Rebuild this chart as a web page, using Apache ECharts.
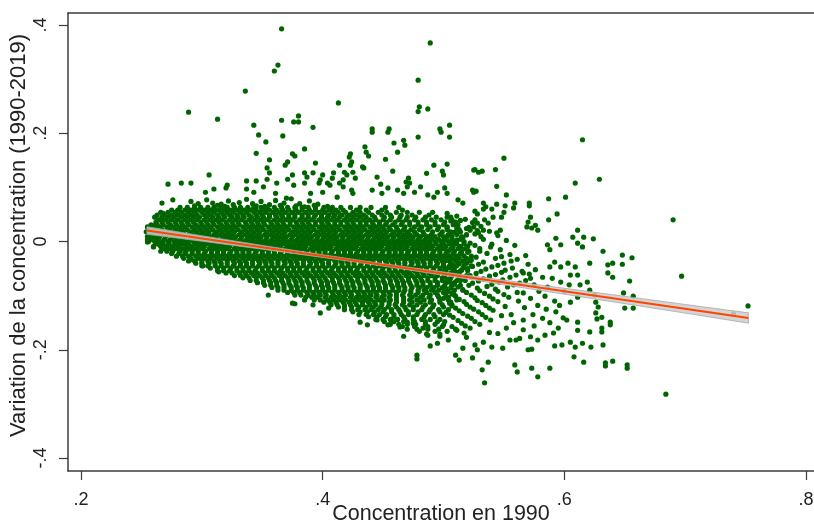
<!DOCTYPE html>
<html><head><meta charset="utf-8">
<script src="https://cdn.jsdelivr.net/npm/echarts@6/dist/echarts.min.js"></script>
<style>html,body{margin:0;padding:0;background:#fff}#c{width:814px;height:525px}</style>
</head><body><div id="c"></div>
<script>
// Tick values and labels
const xTickValues = [0.2, 0.4, 0.6, 0.8];
const xTickLabels = ['.2', '.4', '.6', '.8'];
const yTickValues = [-0.4, -0.2, 0, 0.2, 0.4];
const yTickLabels = ['-.4', '-.2', '0', '.2', '.4'];

// Dense core: each row = [y, x1, x2, ...] in thousandths
const coreRows = [
[63,282,288,294,299,305,310,316,321,327,332,338,343,349,354,360,366,371,377,383,388,394,401,408,415,423,431,440,452,463],
[58,275,280,286,291,297,302,308,313,318,324,329,335,340,345,351,356,362,367,372,378,383,389,394,400,405,411,417,428,436,449,466],
[54,266,272,278,283,289,294,300,305,310,316,321,326,332,337,343,348,353,359,364,369,375,380,386,391,397,402,408,413,419,425,431,438,446,453,461,470,480,491],
[49,263,269,275,280,286,291,296,302,307,313,318,323,329,334,339,345,350,356,361,366,372,377,383,388,394,399,405,410,416,422,428,434,441,449,456,465,474,488],
[45,261,267,272,277,283,288,293,298,304,309,314,319,325,330,335,341,346,351,356,362,367,372,377,383,388,393,399,404,409,414,420,425,431,436,443,451,457,464,470,477,485,494,503],
[40,264,270,275,280,286,291,296,302,307,312,317,323,328,333,339,344,349,354,360,365,370,375,381,386,391,397,402,407,412,418,423,428,434,439,444,450,456,463,469,476,483,490,498,507],
[36,262,267,272,278,283,288,293,299,304,309,314,320,325,330,336,341,346,351,357,362,367,373,378,383,388,394,399,404,410,415,420,425,431,436,441,447,453,460,466,472,479,486,493,501,510],
[31,258,263,268,274,279,284,289,295,300,305,310,316,321,326,331,337,342,347,352,358,363,368,373,379,384,389,394,400,405,410,415,421,426,431,436,442,447,452,458,465,472,479,486,493,500,508],
[27,255,260,265,271,276,281,286,292,297,302,307,313,318,323,328,334,339,344,349,355,360,365,370,376,381,386,391,397,402,407,412,418,423,428,433,439,444,449,455,461,468,476,482,489,496,503,511],
[22,257,262,267,273,278,283,288,294,299,304,309,315,320,325,330,336,341,346,351,357,362,367,372,378,383,388,393,399,404,409,414,420,425,430,435,441,446,451,456,462,467,473,480,487,495,503,511],
[18,254,259,264,270,275,280,285,291,296,301,306,312,317,322,327,333,338,343,348,354,359,364,369,375,380,385,390,396,401,406,411,417,422,427,432,438,443,448,453,459,464,470,476,483,491,499,506,514],
[13,257,262,268,273,278,283,289,294,299,304,310,315,320,325,331,336,341,346,352,357,362,367,373,378,383,388,394,399,404,409,415,420,425,430,436,441,446,451,457,462,467,472,478,484,490,497,504,511,519],
[9,255,260,265,270,276,281,286,291,297,302,307,312,318,323,328,333,339,344,349,354,360,365,370,375,381,386,391,396,402,407,412,417,423,428,433,438,444,449,454,459,465,470,475,481,487,493,500,507,515],
[4,258,263,269,274,279,284,290,295,300,305,311,316,321,326,332,337,342,347,353,358,363,368,374,379,384,389,395,400,405,410,416,421,426,431,437,442,447,452,458,463,468,473,479,485,490,496,501,507,514],
[0,256,261,266,272,277,282,287,293,298,303,308,314,319,324,329,335,340,345,350,356,361,366,371,377,382,387,392,398,403,408,413,419,424,429,434,440,445,450,455,461,466,471,476,482,487,493,498,504,510,517],
[-4,263,268,273,279,284,289,295,300,305,311,316,321,326,332,337,342,347,353,358,363,368,374,379,384,389,395,400,405,410,416,421,426,431,437,442,447,452,458,463,468,473,479,484,489,494,500,505,511,517],
[-9,260,266,271,276,281,287,292,297,302,308,313,318,323,329,334,339,344,350,355,360,365,371,376,381,386,392,397,402,407,413,418,423,428,434,439,444,449,455,460,465,470,476,481,486,491,497,502,508,514,520],
[-13,269,274,279,284,290,295,300,306,311,316,321,327,332,337,342,348,353,358,363,369,374,379,384,390,395,400,405,411,416,421,426,432,437,442,447,453,458,463,468,474,479,484,489,495,500,506,512,518],
[-18,266,271,276,282,287,292,297,303,308,313,318,324,329,334,339,345,350,355,360,366,371,376,381,387,392,397,402,408,413,418,423,429,434,439,444,450,455,460,465,471,476,481,486,492,497,503,509,515,521],
[-22,275,281,286,292,297,302,308,313,318,323,329,334,339,344,350,355,360,365,371,376,381,386,392,397,402,407,413,418,423,428,434,439,444,449,455,460,465,470,476,481,486,491,497,502,508,514],
[-27,279,284,289,295,300,305,310,316,321,326,331,337,342,347,352,358,363,368,373,379,384,389,394,400,405,410,415,421,426,431,436,442,447,452,457,463,468,473,478,484,489,494,500,505,511,517,523],
[-31,285,291,297,302,307,313,318,323,328,334,339,344,349,355,360,365,370,376,381,386,391,397,402,407,412,418,423,428,433,439,444,449,454,460,465,470,475,481,486,491,497,502,507,513,519],
[-36,289,294,300,305,310,315,321,326,331,336,342,347,352,357,363,368,373,378,384,389,394,399,405,410,415,420,426,431,436,441,447,452,457,462,468,473,478,483,489,494,499,505,510,516,522],
[-40,295,300,306,311,316,321,327,332,337,342,348,353,358,363,369,374,379,384,390,395,400,405,411,416,421,426,432,437,442,447,453,458,463,468,474,479,484,489,495,500,506,512,519],
[-45,300,305,311,316,321,326,332,337,342,347,353,358,363,368,374,379,384,389,395,400,405,410,416,421,426,431,437,442,447,452,458,463,468,473,479,484,489,494,500,505,511,517,523],
[-49,307,313,318,324,329,334,339,345,350,355,360,366,371,376,381,387,392,397,402,408,413,418,423,429,434,439,444,450,455,460,465,471,476,481,486,492,497,503,509,516],
[-54,313,318,323,329,334,339,344,350,355,360,365,371,376,381,386,392,397,402,407,413,418,423,428,434,439,444,449,455,460,465,470,476,481,486,491,497,502,508,514,520],
[-58,320,325,331,336,341,346,352,357,362,367,373,378,383,388,394,399,404,409,415,420,425,430,436,441,446,451,457,462,467,472,478,483,488,494,500,506,513],
[-63,327,332,337,343,348,353,358,364,369,374,379,385,390,395,400,406,411,416,421,427,432,437,442,448,453,458,463,469,474,479,484,490,495,501,507,513,519],
[-67,334,339,345,350,355,360,366,371,376,381,387,392,397,402,408,413,418,423,429,434,439,444,450,455,460,465,471,476,481,487,493,499,506,513],
[-72,340,345,351,356,361,366,372,377,382,387,393,398,403,408,414,419,424,429,435,440,445,450,456,461,466,471,477,482,487,493,499,505,511,518],
[-76,346,351,357,362,367,372,378,383,388,393,399,404,409,414,420,425,430,435,441,446,451,456,462,467,472,478,483,489,495,502,509],
[-81,352,357,362,368,373,378,383,389,394,399,404,410,415,420,425,431,436,441,446,452,457,462,467,473,478,483,489,495,501,507,514],
[-85,358,363,368,374,379,384,389,395,400,405,410,416,421,426,431,437,442,447,452,458,463,468,474,480,486,492,499,506],
[-90,363,368,374,379,384,389,395,400,405,410,416,421,426,431,437,442,447,452,458,463,468,473,479,484,490,496,502,509,516],
[-94,371,376,381,387,392,397,402,408,413,418,423,429,434,439,444,450,455,461,467,473,479,486,493,500,508],
[-99,377,382,388,393,398,403,409,414,419,424,430,435,440,445,451,456,461,466,472,477,483,489,495,502,509],
[-103,386,391,396,402,407,412,417,423,428,433,438,444,449,455,461,467,474,481,488,496,504],
[-108,393,398,404,409,414,419,425,430,435,440,446,451,456,461,467,472,478,484,490,497,504,511],
[-112,401,406,411,417,422,427,433,438,443,449,455,461,467,474,481,489,497,506],
[-117,407,412,418,423,428,433,439,444,449,455,460,466,472,478,485,492,499,507],
[-121,413,418,424,430,436,442,448,454,461,468,475,483,491,500],
[-126,418,424,429,435,440,446,451,457,463,469,475,482,489,496,504],
[-130,425,431,437,443,450,457,464,471,479,488,497],
[-135,430,436,442,447,453,459,465,471,478,485,492,500],
[-139,438,445,452,459,467,475,484,493],
[-144,444,450,456,462,468,475,482,489,497],
[-148,451,459,467,476,485,495],
[-153,456,463,470,477,485,493],
[-157,466,476,487,499],
[-162,470,478,487,496],
[-166,480,493],
[-171,486,497]
];

// Irregular points at the upper edge and right end of the dense core: [x, y] in thousandths
const edgePts = [
[291,74],[297,70],[304,77],[309,71],[316,69],[322,75],[331,72],[337,78],[342,70],[349,74],[356,68],[361,76],[368,71],[374,79],[381,70],[389,75],[396,69],[294,66],[313,67],[319,65],[326,68],[345,66],[352,65],[365,67],[378,66],[385,64],[393,67],[404,65],
[503,52],[511,47],[518,41],[506,38],[524,35],[512,31],[531,28],[503,26],[519,24],[538,19],[509,17],[526,14],[545,11],[503,9],[516,7],[533,4],[552,2],[508,-1],[522,-3],[540,-5],[559,-7],[501,-9],[514,-11],[530,-13],[547,-15],[504,-18],[520,-20],[536,-22],[555,-24],[568,-26],[511,-27],[527,-29],[543,-31],[561,-33],[502,-35],[517,-37],[533,-38],[550,-40],[570,-42],[508,-44],[524,-46],[540,-47],[557,-49],[501,-52],[515,-53],[531,-55],[548,-57],[566,-58],[507,-61],[522,-63],[538,-64],[555,-66],[572,-68],[503,-70],[514,-72],[529,-73],[546,-75],[563,-77],[509,-79],[521,-81],[536,-83],[553,-84],[502,-87],[516,-89],[530,-91],[545,-92],[561,-94],[507,-97],[523,-99],[538,-101],[554,-103],[500,-105],[513,-107],[528,-109],[545,-111],[505,-114],[519,-116],[535,-118],[551,-120],[510,-123],[525,-125],[541,-127],[502,-131],[516,-133],[532,-135],[548,-137],[508,-140],[523,-142],[539,-145],[501,-148],[515,-151],[530,-153],[507,-157],[522,-160],[503,-166],[517,-169],
[506,45],[514,39],[521,26],[528,20],[513,22],[505,13],[519,12],[531,9],[511,3],[526,-7],[507,-13],[539,-10],[515,-23],[530,-18],[548,-28],[509,-32],[523,-34],[556,-36],[513,-41],[529,-42],[545,-44],[505,-48],[520,-50],[535,-51],[551,-53],[511,-57],[527,-59],[543,-61],[560,-62],[517,-67],[533,-69],[549,-71],[505,-75],[524,-77],[540,-79],[558,-80],[512,-84],[528,-86],[543,-88],[504,-92],[519,-94],[534,-96],[550,-98],[510,-101],[526,-104],[541,-106],[517,-111],[532,-113],[507,-119],[522,-121],[538,-123],[513,-128],[529,-130],[505,-136],[520,-138],[535,-140],[512,-146],[526,-148],[518,-156],[510,-162]
];

// Scattered points outside the dense core: [x, y] in thousandths
const sparsePts = [
[366,393],[363,326],[360,315],[489,367],[336,278],[289,239],[313,226],[413,256],[343,215],[366,224],[380,232],[376,221],[380,221],[392,211],[479,298],[480,249],[479,240],[487,245],[505,215],[441,208],[455,208],[497,208],
[615,188],[550,154],[526,133],[532,130],[543,133],[629,115],[609,108],[544,102],[527,93],[552,86],[587,79],[601,82],[594,51],[587,40],[525,132],[529,128],[524,95],[525,91],[533,71],[535,64],[533,60],[540,60],[544,69],[551,66],[550,54],[559,71],[558,62],[571,71],[571,66],[526,56],[528,51],[548,45],[541,45],[534,40],[537,34],[526,40],[528,34],[525,27],[572,45],[570,36],[569,27],[573,25],[576,30],[578,21],[547,21],[544,16],[533,21],[529,16],[522,21],[611,21],[607,8],[616,8],[624,5],[593,6],[597,-6],[611,-3],[615,-10],[632,-18],[648,-25],[656,-30],[586,-6],[588,-15],
[690,40],[697,-64],[752,-119],[740,-134],
[272,106],[283,108],[291,108],[306,123],[276,77],[267,71],[268,52],[267,42],[255,-1],[265,-6],[255,3],[257,21],[261,30],[260,-10],
[347,197],[367,195],[353,184],[345,163],[375,162],[377,158],[356,151],[371,147],[369,141],[354,136],[356,127],[375,123],[337,112],[345,112],[354,115],[362,108],[371,115],[376,104],[321,104],[320,99],[310,97],[303,91],[337,97],[343,91],[351,101],[361,89],[370,80],
[441,202],[454,202],[479,193],[498,202],[505,193],[385,171],[459,182],[467,187],[468,178],[462,165],[423,162],[422,156],[424,147],[423,141],[435,175],[436,165],[438,158],[452,152],[394,145],[414,141],[433,138],[434,136],[445,119],[458,130],[486,126],[492,141],[503,143],[499,130],[500,123],[471,117],[469,110],[472,108],[385,127],[387,119],[392,127],[400,123],[409,127],[408,117],[418,128],[420,123],[417,114],[425,128],[427,117],[398,114],[404,108],[406,104],[397,108],[385,108],[414,108],[417,101],[424,95],[425,89],[441,95],[448,106],[449,89],[454,99],[462,95],[467,89],[470,101],[476,91],[481,101],[487,86],[492,82],[495,91],[501,99],[503,89],[512,77],[516,71],[390,89],[412,82],[400,91],
[588,-47],[592,-38],[597,-47],[603,-40],[609,-47],[621,-40],[636,-43],[640,-40],[648,-42],[636,-58],[640,-66],[654,-73],[605,-62],[611,-62],[619,-75],[613,-80],[649,-95],[657,-101],[650,-123],[657,-123],[621,-90],[625,-99],[626,-112],[628,-121],[605,-112],[611,-103],[631,-140],[626,-132],[627,-143],[638,-149],[638,-154],[631,-160],[631,-167],[621,-167],[611,-164],[611,-149],[615,-188],[609,-195],[605,-186],[602,-145],[599,-141],[595,-160],[591,-169],[584,-173],[578,-182],[572,-176],[570,-200],[563,-179],[560,-182],[555,-182],[549,-197],[540,-195],[533,-186],[528,-200],[526,-191],[524,-215],[537,-223],[532,-237],[534,-261],[559,-228],[561,-241],[573,-199],[573,-234],[578,-250],[588,-234],[592,-193],[598,-191],[608,-213],[616,-223],[622,-195],[634,-224],[634,-230],[640,-221],[652,-228],[652,-234],[632,-191],
[565,-55],[571,-60],[576,-52],[582,-66],[568,-72],[575,-80],[586,-84],[579,-92],[566,-95],[572,-105],[584,-101],[592,-110],[578,-118],[567,-122],[585,-125],[593,-130],[574,-135],[582,-142],[566,-145],[588,-150],[575,-156],[566,-163],[596,-118],[600,-92],[597,-75],[590,-68],[604,-80],[562,-110],[558,-150],[552,-160],[545,-170],[538,-168],[556,-135],
[392,-117],[385,-108],[398,-132],[405,-123],[431,-149],[437,-154],[445,-145],[454,-154],[464,-158],[467,-175],[475,-151],[478,-210],[478,-217],[487,-173],[489,-193],[495,-188],[497,-175],[504,-182],[510,-210],[513,-219],[516,-197],[500,-154],[511,-164],[519,-177],[483,-160],[470,-149],
[301,-45],[314,-56],[355,-99],[375,-114],[377,-115],[290,-34],[684,-282]
];

// Fitted line and confidence band
const fitX = [0.2546, 0.7523];
const fitY = [0.0203, -0.1413];
const ciX =   [0.2546, 0.30,   0.35,    0.40,    0.43,    0.47,    0.52,    0.58,    0.64,    0.70,    0.7523];
const ciLow = [0.0133, 0.0006, -0.0142, -0.0294, -0.0389, -0.0521, -0.0694, -0.0904, -0.1113, -0.1323, -0.1508];
const ciHigh= [0.0273, 0.0106, -0.0072, -0.0244, -0.0345, -0.0471, -0.0624, -0.0804, -0.0983, -0.1163, -0.1318];

const pts = [];
coreRows.forEach(r => { for (let i = 1; i < r.length; i++) pts.push([r[i] / 1000, r[0] / 1000]); });
edgePts.concat(sparsePts).forEach(p => pts.push([p[0] / 1000, p[1] / 1000]));

const bandPoly = ciX.map((x, i) => [x, ciHigh[i]]).concat(ciX.map((x, i) => [x, ciLow[i]]).reverse());

const axisCol = '#3c3c3c';
const FONT = '"Liberation Sans", Arial, sans-serif';
const chart = echarts.init(document.getElementById('c'), null, {renderer: 'canvas'});
chart.setOption({
  animation: false,
  backgroundColor: '#ffffff',
  grid: {left: 68, top: 13, right: 0, bottom: 54, containLabel: false, outerBoundsMode: 'none'},
  xAxis: [{
    type: 'value', min: 0.18924, max: 0.8066, position: 'bottom',
    name: 'Concentration en 1990', nameLocation: 'middle', nameGap: 32, nameMoveOverlap: false,
    nameTextStyle: {fontFamily: FONT, fontSize: 21.5, color: '#222'},
    axisLine: {show: true, onZero: false, lineStyle: {color: axisCol, width: 1.5}},
    axisTick: {show: true, length: 9, customValues: xTickValues, lineStyle: {color: axisCol, width: 1.2}},
    axisLabel: {customValues: xTickValues, margin: 20, fontFamily: FONT, fontSize: 18, color: '#222',
      formatter: v => { const i = xTickValues.findIndex(t => Math.abs(t - v) < 1e-9); return i >= 0 ? xTickLabels[i] : ''; }},
    splitLine: {show: false}
  }, {
    type: 'value', min: 0.18924, max: 0.8066, position: 'top',
    axisLine: {show: true, onZero: false, lineStyle: {color: axisCol, width: 1.5}},
    axisTick: {show: false}, axisLabel: {show: false}, splitLine: {show: false}
  }],
  yAxis: {
    type: 'value', min: -0.424, max: 0.4222,
    name: 'Variation de la concentration (1990-2019)', nameLocation: 'middle', nameGap: 38, nameMoveOverlap: false,
    nameTextStyle: {fontFamily: FONT, fontSize: 22, color: '#222', padding: [0, 0, 0, 13]},
    axisLine: {show: true, onZero: false, lineStyle: {color: axisCol, width: 1.5}},
    axisTick: {show: true, length: 9, customValues: yTickValues, lineStyle: {color: axisCol, width: 1.2}},
    axisLabel: {customValues: yTickValues, rotate: 90, margin: 18, fontFamily: FONT, fontSize: 18, color: '#222',
      formatter: v => { const i = yTickValues.findIndex(t => Math.abs(t - v) < 1e-9); return i >= 0 ? yTickLabels[i] : ''; }},
    splitLine: {show: false}
  },
  series: [{
    type: 'scatter', data: pts, symbolSize: 5.2,
    itemStyle: {color: '#006400', opacity: 1}, z: 2
  }, {
    type: 'custom', z: 3,
    data: [0],
    renderItem: (params, api) => ({
      type: 'polygon',
      shape: {points: bandPoly.map(p => api.coord(p))},
      style: {fill: 'rgba(205,205,205,0.85)', stroke: '#a8a8a8', lineWidth: 0.8}
    })
  }, {
    type: 'line', z: 4, data: fitX.map((x, i) => [x, fitY[i]]), symbol: 'none',
    lineStyle: {color: '#ff4500', width: 2}
  }]
});
</script></body></html>
